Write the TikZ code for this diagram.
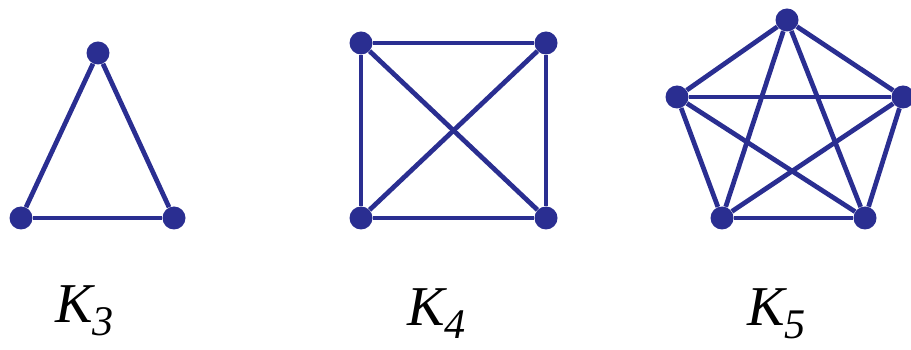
\documentclass[tikz,border=0pt]{standalone}
\usepackage{fontspec}
\setmainfont{Liberation Serif}
\usetikzlibrary{positioning}
\definecolor{graphblue}{RGB}{42,46,145}
\newcommand{\kname}[1]{\textit{K\raisebox{-7pt}{\fontsize{24}{24}\selectfont #1}}}

\begin{document}
\begin{tikzpicture}[x=0.02cm,y=-0.02cm,vert/.style={circle,fill=graphblue,inner sep=0pt,minimum size=0.46cm},
    edge/.style={graphblue,line width=2.7pt},lbl/.style={anchor=base west,inner sep=0pt,font=\fontsize{32}{32}\selectfont}]
  \useasboundingbox (0,0) rectangle (911,350);
  % K3
  \node[vert] (a1) at (98,53) {};
  \node[vert] (a2) at (21,218) {};
  \node[vert] (a3) at (174,218) {};
  \foreach \a/\b in {a1/a2,a1/a3,a2/a3}
    \draw[edge] (\a) -- (\b);
  % K4
  \node[vert] (b1) at (361,43) {};
  \node[vert] (b2) at (546,43) {};
  \node[vert] (b3) at (361,218) {};
  \node[vert] (b4) at (546,218) {};
  \foreach \a/\b in {b1/b2,b1/b3,b1/b4,b2/b3,b2/b4,b3/b4}
    \draw[edge] (\a) -- (\b);
  % K5
  \node[vert] (c1) at (787,20) {};
  \node[vert] (c2) at (677,97) {};
  \node[vert] (c3) at (903,97) {};
  \node[vert] (c4) at (722,218) {};
  \node[vert] (c5) at (865,218) {};
  \foreach \a/\b in {c1/c2,c1/c3,c1/c4,c1/c5,c2/c3,c2/c4,c2/c5,c3/c4,c3/c5,c4/c5}
    \draw[edge] (\a) -- (\b);
  % popisky
  \node[lbl] (l3) at (55,323) {\kname{3}};
  \node[lbl] (l4) at (407,326) {\kname{4}};
  \node[lbl] (l5) at (747,326) {\kname{5}};
\end{tikzpicture}
\end{document}
